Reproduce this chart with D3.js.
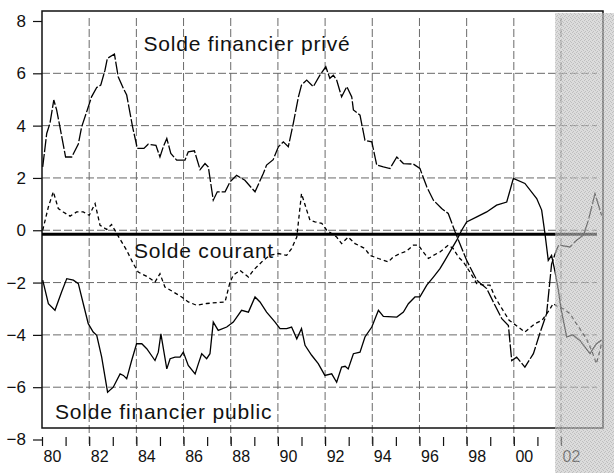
<!DOCTYPE html>
<html>
<head>
<meta charset="utf-8">
<script src="https://cdn.jsdelivr.net/npm/d3@7"></script>
<style>
  body { margin: 0; background: #fff; }
  svg { display: block; font-family: "Liberation Sans", Arial, sans-serif; }
</style>
</head>
<body>
<svg id="chart" width="614" height="473"></svg>
<script>
// values: [year, % of GDP]
const prive = [[1980.03,2.42],[1980.2,3.7],[1980.34,4.1],[1980.5,4.98],[1980.62,4.6],[1980.76,3.95],[1981.0,2.8],[1981.26,2.8],[1981.54,3.3],[1981.68,3.95],[1981.92,4.6],[1982.1,5.1],[1982.32,5.46],[1982.49,5.55],[1982.67,6.12],[1982.77,6.57],[1983.07,6.74],[1983.23,5.87],[1983.45,5.42],[1983.59,5.17],[1983.84,3.95],[1984.04,3.13],[1984.32,3.13],[1984.5,3.29],[1984.83,3.25],[1985.0,2.8],[1985.14,3.19],[1985.29,3.51],[1985.46,2.94],[1985.71,2.68],[1986.06,2.68],[1986.2,3.0],[1986.46,3.04],[1986.7,2.32],[1986.91,2.55],[1987.05,2.42],[1987.26,1.15],[1987.43,1.47],[1987.76,1.47],[1987.97,1.85],[1988.25,2.1],[1988.6,1.91],[1989.03,1.47],[1989.38,2.17],[1989.52,2.49],[1989.8,2.7],[1990.02,3.19],[1990.23,3.38],[1990.44,3.19],[1990.65,4.08],[1990.87,5.1],[1991.0,5.55],[1991.22,5.74],[1991.5,5.49],[1991.78,5.93],[1992.03,6.25],[1992.2,5.81],[1992.35,5.93],[1992.49,5.74],[1992.7,5.1],[1992.92,5.49],[1993.13,5.1],[1993.2,4.6],[1993.48,4.4],[1993.69,3.44],[1993.98,3.38],[1994.19,2.49],[1994.47,2.42],[1994.75,2.36],[1995.04,2.8],[1995.32,2.55],[1995.74,2.53],[1996.02,2.36],[1996.31,1.66],[1996.59,1.15],[1996.94,0.83],[1997.22,0.64],[1997.51,-0.06],[1998.0,-1.15],[1998.43,-1.91],[1998.85,-2.23],[1999.2,-2.87],[1999.49,-3.38],[1999.77,-3.64],[1999.91,-4.98],[2000.12,-4.85],[2000.47,-5.23],[2000.83,-4.72],[2001.1,-3.95],[2001.39,-3.19],[2001.6,-1.3],[2001.75,-0.9],[2001.9,-0.57],[2002.38,-0.64],[2002.66,-0.38],[2002.95,-0.19],[2003.16,0.38],[2003.44,1.4],[2003.72,0.57]];

const courant = [[1980.03,0.0],[1980.27,0.89],[1980.48,1.47],[1980.69,0.83],[1980.9,0.7],[1981.19,0.54],[1981.47,0.7],[1981.75,0.7],[1982.0,0.57],[1982.25,1.02],[1982.46,0.19],[1982.74,0.03],[1982.95,0.22],[1983.17,-0.13],[1983.59,-0.77],[1983.87,-1.28],[1984.08,-1.6],[1984.5,-1.79],[1984.79,-1.98],[1985.0,-1.66],[1985.21,-2.17],[1985.57,-2.36],[1985.92,-2.55],[1986.2,-2.74],[1986.56,-2.87],[1986.98,-2.8],[1987.76,-2.74],[1987.97,-1.98],[1988.11,-1.72],[1988.39,-1.53],[1988.75,-1.79],[1988.96,-1.53],[1989.38,-1.15],[1989.66,-0.96],[1990.02,-0.89],[1990.37,-0.96],[1990.58,-0.7],[1990.8,-0.26],[1991.0,1.4],[1991.22,0.77],[1991.36,0.38],[1991.57,0.32],[1991.86,0.26],[1992.07,0.0],[1992.49,-0.26],[1992.7,-0.51],[1992.98,-0.26],[1993.27,-0.51],[1993.69,-0.7],[1993.9,-0.96],[1994.26,-1.08],[1994.68,-1.21],[1994.89,-1.02],[1995.18,-0.89],[1995.45,-0.8],[1995.74,-0.57],[1995.95,-0.57],[1996.16,-0.83],[1996.38,-1.08],[1996.59,-0.96],[1996.87,-0.83],[1997.22,-0.57],[1997.43,-0.7],[1997.65,-1.02],[1997.86,-1.21],[1998.14,-1.6],[1998.43,-2.04],[1998.71,-2.1],[1998.99,-2.1],[1999.2,-2.55],[1999.41,-2.87],[1999.8,-3.44],[2000.47,-3.89],[2000.9,-3.57],[2001.2,-3.44],[2001.5,-3.06],[2001.67,-2.8],[2001.87,-2.93],[2002.1,-3.0],[2002.38,-3.19],[2002.6,-3.5],[2003.08,-4.15],[2003.3,-4.6],[2003.5,-5.1],[2003.65,-4.6],[2003.72,-4.3]];

const public_ = [[1980.03,-1.91],[1980.27,-2.81],[1980.55,-3.06],[1980.83,-2.36],[1981.05,-1.85],[1981.33,-1.91],[1981.54,-2.04],[1981.75,-2.81],[1981.96,-3.57],[1982.17,-3.89],[1982.32,-4.02],[1982.53,-4.85],[1982.78,-6.19],[1983.02,-6.0],[1983.31,-5.49],[1983.45,-5.55],[1983.59,-5.68],[1983.8,-4.98],[1984.01,-4.34],[1984.23,-4.34],[1984.44,-4.53],[1984.79,-4.98],[1984.93,-4.66],[1985.04,-3.96],[1985.29,-5.3],[1985.43,-4.91],[1985.64,-4.85],[1985.85,-4.85],[1985.99,-4.66],[1986.2,-5.17],[1986.49,-5.49],[1986.63,-5.1],[1986.77,-4.72],[1986.98,-4.91],[1987.12,-4.72],[1987.26,-3.51],[1987.47,-3.83],[1987.83,-3.7],[1988.11,-3.51],[1988.46,-3.06],[1988.75,-3.13],[1989.03,-2.55],[1989.24,-2.74],[1989.52,-3.13],[1989.88,-3.51],[1990.09,-3.76],[1990.37,-3.76],[1990.58,-3.7],[1990.8,-4.15],[1991.0,-3.76],[1991.15,-4.4],[1991.43,-4.78],[1991.71,-5.1],[1991.99,-5.55],[1992.28,-5.49],[1992.49,-5.81],[1992.7,-5.23],[1992.85,-5.2],[1992.98,-5.3],[1993.2,-4.72],[1993.48,-4.66],[1993.69,-4.08],[1993.98,-3.7],[1994.26,-3.06],[1994.47,-3.29],[1995.04,-3.32],[1995.32,-3.13],[1995.53,-2.81],[1995.81,-2.55],[1996.02,-2.55],[1996.31,-2.1],[1996.59,-1.79],[1996.87,-1.47],[1997.08,-1.15],[1997.37,-0.7],[1997.58,-0.38],[1997.79,0.0],[1998.0,0.32],[1998.43,0.51],[1998.85,0.7],[1999.27,0.96],[1999.7,1.08],[1999.98,1.98],[2000.47,1.79],[2000.97,1.21],[2001.18,0.77],[2001.32,-0.13],[2001.46,-1.15],[2001.6,-0.96],[2001.75,-1.6],[2001.89,-2.3],[2002.0,-3.0],[2002.24,-4.08],[2002.5,-4.0],[2002.8,-4.21],[2003.23,-4.72],[2003.5,-4.34],[2003.72,-4.2]];

const yTicks = [-8, -6, -4, -2, 0, 2, 4, 6, 8];
const yGrid = [-6, -4, -2, 0, 2, 4, 6];
const years = d3.range(1980, 2003);
const gridYears = d3.range(1982, 2003, 2);
const refLine = -0.15;       // thick horizontal line
const forecastStart = 2001.75;

const labels = [
  { text: "Solde financier privé", year: 1984.3, value: 6.85 },
  { text: "Solde courant", year: 1983.9, value: -1.05 },
  { text: "Solde financier public", year: 1980.55, value: -7.2 }
];

const svg = d3.select("#chart");
const x = d3.scaleLinear().domain([1980, 2003.78]).range([42, 603]);
const y = d3.scaleLinear().domain([-8, 8]).range([439.5, 21]);
const frame = { left: 42, top: 11, right: 603, bottom: 428 };

// stipple for the forecast zone
const pat = svg.append("defs").append("pattern")
  .attr("id", "stipple").attr("width", 4).attr("height", 4)
  .attr("patternUnits", "userSpaceOnUse");
pat.append("rect").attr("width", 4).attr("height", 4).attr("fill", "#c8c8c8");
[[0, 0], [2, 1], [1, 3], [3, 2]].forEach(([px, py]) =>
  pat.append("rect").attr("x", px).attr("y", py).attr("width", 1).attr("height", 1).attr("fill", "#9a9a9a"));

// grid
svg.append("g").selectAll("line").data(yGrid).join("line")
  .attr("x1", frame.left).attr("x2", 597)
  .attr("y1", d => y(d)).attr("y2", d => y(d))
  .attr("stroke", "#6a6a6a").attr("stroke-width", 1)
  .attr("stroke-dasharray", "8,3");

svg.append("g").selectAll("line").data(gridYears).join("line")
  .attr("x1", d => x(d)).attr("x2", d => x(d))
  .attr("y1", 18).attr("y2", 446)
  .attr("stroke", "#6a6a6a").attr("stroke-width", 1)
  .attr("stroke-dasharray", "8,3");

// frame
svg.append("rect")
  .attr("x", frame.left).attr("y", frame.top)
  .attr("width", frame.right - frame.left).attr("height", frame.bottom - frame.top)
  .attr("fill", "none").attr("stroke", "#111").attr("stroke-width", 1.5);

// y axis
const yAxis = svg.append("g")
  .attr("transform", `translate(${frame.left},0)`)
  .call(d3.axisLeft(y).tickValues(yTicks).tickSize(9).tickPadding(7).tickFormat(d3.format("d")));
yAxis.select(".domain").remove();
yAxis.selectAll("line").attr("stroke", "#111").attr("stroke-width", 1.2);
yAxis.selectAll("text").attr("font-size", 17).attr("fill", "#111")
  .attr("font-family", "Liberation Sans, Arial, sans-serif");

// x axis: a tick every year, labels on even years shifted right
const xAxis = svg.append("g")
  .attr("transform", "translate(0,437)")
  .call(d3.axisBottom(x).tickValues(years).tickSize(9)
    .tickFormat(d => d % 2 === 0 ? d3.format("02")(d % 100) : ""));
xAxis.select(".domain").remove();
xAxis.selectAll("line").attr("stroke", "#111").attr("stroke-width", 1.2);
xAxis.selectAll("text")
  .attr("x", 10).attr("y", 25).attr("dy", null)
  .attr("font-size", 16).attr("fill", "#111")
  .attr("font-family", "Liberation Sans, Arial, sans-serif");

// thick reference line
svg.append("line")
  .attr("x1", frame.left).attr("x2", 597)
  .attr("y1", y(refLine)).attr("y2", y(refLine))
  .attr("stroke", "#000").attr("stroke-width", 3);

// series
const line = d3.line().x(d => x(d[0])).y(d => y(d[1]));
svg.append("path").datum(prive).attr("d", line)
  .attr("fill", "none").attr("stroke", "#000").attr("stroke-width", 1.3)
  .attr("stroke-dasharray", "13,2");
svg.append("path").datum(courant).attr("d", line)
  .attr("fill", "none").attr("stroke", "#000").attr("stroke-width", 1.3)
  .attr("stroke-dasharray", "4,3");
svg.append("path").datum(public_).attr("d", line)
  .attr("fill", "none").attr("stroke", "#000").attr("stroke-width", 1.3);

// labels
svg.append("g").selectAll("text").data(labels).join("text")
  .attr("x", d => x(d.year)).attr("y", d => y(d.value))
  .attr("font-size", 21).attr("letter-spacing", 0.8).attr("fill", "#111")
  .text(d => d.text);

// forecast shading
svg.append("rect")
  .attr("x", x(forecastStart)).attr("y", 13)
  .attr("width", 614 - x(forecastStart)).attr("height", 460)
  .attr("fill", "url(#stipple)").attr("opacity", 0.63);
</script>
</body>
</html>
